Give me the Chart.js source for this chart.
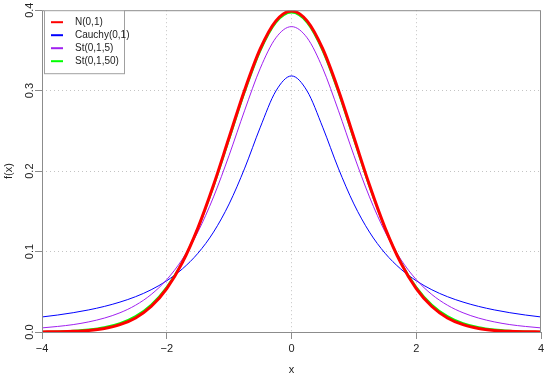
<!DOCTYPE html>
<html>
<head>
<meta charset="utf-8">
<script src="https://cdn.jsdelivr.net/npm/chart.js@4.4.0/dist/chart.umd.min.js"></script>
<style>
  html, body { margin: 0; padding: 0; background: #fff; }
</style>
</head>
<body>
<canvas id="densityChart" width="550" height="378"></canvas>
<script>
// x grid of the curves
const xValues = [-4, -3.75, -3.5, -3.25, -3, -2.75, -2.5, -2.25, -2, -1.75, -1.5, -1.25, -1, -0.75, -0.5, -0.25,
  0, 0.25, 0.5, 0.75, 1, 1.25, 1.5, 1.75, 2, 2.25, 2.5, 2.75, 3, 3.25, 3.5, 3.75, 4];

// density values
const normalValues = [0.0001, 0.0004, 0.0009, 0.0020, 0.0044, 0.0091, 0.0175, 0.0317, 0.0540, 0.0863, 0.1295, 0.1826, 0.2420, 0.3011, 0.3521, 0.3867,
  0.3989, 0.3867, 0.3521, 0.3011, 0.2420, 0.1826, 0.1295, 0.0863, 0.0540, 0.0317, 0.0175, 0.0091, 0.0044, 0.0020, 0.0009, 0.0004, 0.0001];
const cauchyValues = [0.0187, 0.0211, 0.0240, 0.0275, 0.0318, 0.0372, 0.0439, 0.0525, 0.0637, 0.0784, 0.0979, 0.1242, 0.1592, 0.2037, 0.2546, 0.2996,
  0.3183, 0.2996, 0.2546, 0.2037, 0.1592, 0.1242, 0.0979, 0.0784, 0.0637, 0.0525, 0.0439, 0.0372, 0.0318, 0.0275, 0.0240, 0.0211, 0.0187];
const st5Values = [0.0051, 0.0069, 0.0092, 0.0126, 0.0173, 0.0239, 0.0333, 0.0466, 0.0651, 0.0905, 0.1245, 0.1679, 0.2197, 0.2757, 0.3279, 0.3657,
  0.3796, 0.3657, 0.3279, 0.2757, 0.2197, 0.1679, 0.1245, 0.0905, 0.0651, 0.0466, 0.0333, 0.0239, 0.0173, 0.0126, 0.0092, 0.0069, 0.0051];
const st50Values = [0.0003, 0.0007, 0.0015, 0.0030, 0.0058, 0.0109, 0.0197, 0.0339, 0.0558, 0.0872, 0.1292, 0.1811, 0.2396, 0.2984, 0.3495, 0.3845,
  0.3970, 0.3845, 0.3495, 0.2984, 0.2396, 0.1811, 0.1292, 0.0872, 0.0558, 0.0339, 0.0197, 0.0109, 0.0058, 0.0030, 0.0015, 0.0007, 0.0003];

const seriesNames = ['N(0,1)', 'Cauchy(0,1)', 'St(0,1,5)', 'St(0,1,50)'];
const seriesColors = ['#ff0000', '#0000ff', '#a020f0', '#00ff00'];
const seriesWidths = [3, 1, 1, 2];
const xTickLabels = [-4, -2, 0, 2, 4];
const yTickLabels = [0.0, 0.1, 0.2, 0.3, 0.4];

const FONT = '"Liberation Sans", Arial, sans-serif';

function toPoints(values) {
  return xValues.map((x, i) => ({ x: x, y: values[i] }));
}

// 축 제목, 회전된 y 눈금, 상자, 범례
const rStylePlugin = {
  id: 'rStyle',
  afterDraw(chart) {
    const ctx = chart.ctx;
    const area = chart.chartArea;
    const yScale = chart.scales.y;
    ctx.save();

    // plot box
    ctx.strokeStyle = '#8c8c8c';
    ctx.lineWidth = 1;
    ctx.strokeRect(area.left + 0.5, area.top + 0.5, area.right - area.left - 1, area.bottom - area.top);

    // y tick labels, rotated like R
    ctx.fillStyle = '#222';
    ctx.font = '11px ' + FONT;
    ctx.textAlign = 'center';
    ctx.textBaseline = 'middle';
    yTickLabels.forEach((v) => {
      ctx.save();
      ctx.translate(30, yScale.getPixelForValue(v));
      ctx.rotate(-Math.PI / 2);
      ctx.fillText(v.toFixed(1), 0, 0);
      ctx.restore();
    });

    // axis titles
    ctx.save();
    ctx.translate(9, (area.top + area.bottom) / 2);
    ctx.rotate(-Math.PI / 2);
    ctx.fillText('f(x)', 0, 0);
    ctx.restore();
    ctx.fillText('x', (area.left + area.right) / 2, 370);

    // legend
    const lx = area.left + 2, ly = area.top;
    ctx.fillStyle = '#fff';
    ctx.fillRect(lx, ly, 80, 63);
    ctx.strokeStyle = '#a0a0a0';
    ctx.strokeRect(lx + 0.5, ly + 0.5, 80, 63);
    ctx.font = '10px ' + FONT;
    ctx.textAlign = 'left';
    seriesNames.forEach((name, i) => {
      const y = ly + 12 + i * 13;
      ctx.strokeStyle = seriesColors[i];
      ctx.lineWidth = 2;
      ctx.beginPath();
      ctx.moveTo(lx + 7, y);
      ctx.lineTo(lx + 19, y);
      ctx.stroke();
      ctx.fillStyle = '#222';
      ctx.fillText(name, lx + 31, y);
    });
    ctx.restore();
  }
};

const allValues = [normalValues, cauchyValues, st5Values, st50Values];
const drawOrder = [0, 3, 2, 1];

const chart = new Chart(document.getElementById('densityChart'), {
  type: 'line',
  data: {
    datasets: seriesNames.map((name, i) => ({
      label: name,
      data: toPoints(allValues[i]),
      borderColor: seriesColors[i],
      borderWidth: seriesWidths[i],
      pointRadius: 0,
      fill: false,
      cubicInterpolationMode: 'monotone',
      order: drawOrder[i]
    }))
  },
  options: {
    responsive: false,
    animation: false,
    layout: { padding: { left: 0, right: 9, top: 10, bottom: 0 } },
    plugins: {
      legend: { display: false },
      tooltip: { enabled: false }
    },
    scales: {
      x: {
        type: 'linear',
        min: -4,
        max: 4,
        afterBuildTicks: (scale) => { scale.ticks = xTickLabels.map(v => ({ value: v })); },
        afterFit: (scale) => { scale.height = 46; },
        ticks: {
          color: '#222',
          font: { size: 11, family: FONT },
          padding: 3,
          maxRotation: 0,
          callback: (v) => String(v).replace('-', '\u2212')
        },
        grid: {
          color: (c) => (c.tick && Math.abs(c.tick.value) < 4) ? '#c4c4c4' : 'rgba(0,0,0,0)',
          tickColor: '#8c8c8c',
          tickLength: 7,
          tickBorderDash: []
        },
        border: { display: false, dash: [1, 3] }
      },
      y: {
        min: 0,
        max: 0.4,
        afterBuildTicks: (scale) => { scale.ticks = yTickLabels.map(v => ({ value: v })); },
        afterFit: (scale) => { scale.width = 42; },
        ticks: { callback: () => '' },
        grid: {
          color: (c) => (c.tick && c.tick.value > 0.05 && c.tick.value < 0.35) ? '#c4c4c4' : 'rgba(0,0,0,0)',
          tickColor: '#8c8c8c',
          tickLength: 7,
          tickBorderDash: []
        },
        border: { display: false, dash: [1, 3] }
      }
    }
  },
  plugins: [rStylePlugin]
});
</script>
</body>
</html>
